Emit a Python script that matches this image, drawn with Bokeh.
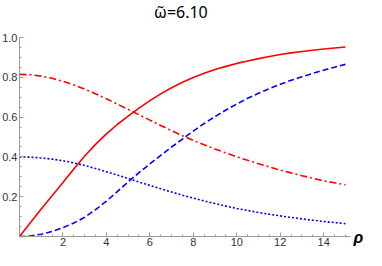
from bokeh.plotting import figure
from bokeh.models import FixedTicker, Range1d, PrintfTickFormatter
from bokeh.core.properties import value
from bokeh.embed import file_html
from bokeh.resources import INLINE

rho = [i * 0.5 for i in range(31)]
red_solid = [0.0, 0.069, 0.138, 0.205, 0.272, 0.34, 0.405, 0.463, 0.516, 0.563, 0.605,
             0.645, 0.683, 0.717, 0.748, 0.775, 0.799, 0.82, 0.839, 0.855, 0.87, 0.882,
             0.894, 0.905, 0.915, 0.923, 0.93, 0.936, 0.942, 0.947, 0.952]
red_dashdot = [0.815, 0.813, 0.806, 0.795, 0.78, 0.762, 0.741, 0.717, 0.692, 0.666, 0.639,
               0.612, 0.585, 0.558, 0.532, 0.507, 0.483, 0.461, 0.44, 0.42, 0.401, 0.383,
               0.366, 0.35, 0.334, 0.32, 0.306, 0.293, 0.28, 0.27, 0.26]
blue_dashed = [0.0, 0.003, 0.012, 0.026, 0.045, 0.068, 0.097, 0.135, 0.178, 0.226, 0.275,
               0.321, 0.365, 0.408, 0.45, 0.49, 0.53, 0.568, 0.603, 0.636, 0.666, 0.695,
               0.72, 0.743, 0.765, 0.785, 0.803, 0.82, 0.836, 0.851, 0.865]
blue_dotted = [0.40, 0.399, 0.395, 0.389, 0.381, 0.37, 0.357, 0.342, 0.326, 0.309, 0.292,
               0.274, 0.257, 0.24, 0.224, 0.208, 0.193, 0.179, 0.166, 0.153, 0.141, 0.131,
               0.121, 0.112, 0.104, 0.096, 0.089, 0.082, 0.076, 0.07, 0.065]

x_ticks = [2, 4, 6, 8, 10, 12, 14]
x_minor = [i * 0.5 for i in range(31)]
y_ticks = [0.2, 0.4, 0.6, 0.8, 1.0]
y_minor = [i * 0.05 for i in range(21)]
title_text = "ω̃=6.10"
x_label = "ρ"

FONT = "Liberation Sans"

p = figure(width=366, height=250, output_backend="svg", toolbar_location=None,
           x_range=Range1d(-0.874, 15.97), y_range=Range1d(-0.070, 1.186),
           min_border=0, min_border_left=0, min_border_right=0,
           min_border_top=0, min_border_bottom=0)
p.outline_line_color = None
p.xgrid.visible = False
p.ygrid.visible = False
p.background_fill_color = "white"
p.border_fill_color = "white"

p.xaxis.fixed_location = 0
p.yaxis.fixed_location = 0
p.xaxis.bounds = (0, 15.23)
p.yaxis.bounds = (0, 1.0)
p.yaxis.formatter = PrintfTickFormatter(format="%.1f")

for ax, ticks, minor in ((p.xaxis[0], x_ticks, x_minor), (p.yaxis[0], y_ticks, y_minor)):
    ax.ticker = FixedTicker(ticks=ticks, minor_ticks=minor)
    ax.axis_line_color = "#9a9a9a"
    ax.major_tick_line_color = "#9a9a9a"
    ax.minor_tick_line_color = "#9a9a9a"
    ax.major_tick_in = 4
    ax.major_tick_out = 0
    ax.minor_tick_in = 2
    ax.minor_tick_out = 0
    ax.major_label_text_font = FONT
    ax.major_label_text_font_size = "11px"
    ax.major_label_text_color = "#333333"
    ax.major_label_standoff = 2

p.xaxis.major_label_standoff = 1

p.line(rho, red_solid, line_color="#ff0000", line_width=1.6)
p.line(rho, red_dashdot, line_color="#ff0000", line_width=1.6, line_dash="7 3 2 3")
p.line(rho, blue_dashed, line_color="#0000ff", line_width=1.6, line_dash="6 3")
p.line(rho, blue_dotted, line_color="#0000ff", line_width=1.6, line_dash="2 2")

p.text(x=[7.43], y=[1.128], text=[title_text], text_font=value("Noto Sans"),
       text_font_size="16px", text_align="center", text_baseline="middle", text_color="black")
p.text(x=[15.37], y=[-0.004], text=[x_label], text_font=value(FONT),
       text_font_size="16px", text_font_style="bold italic", text_align="left",
       text_baseline="middle", text_color="black")

open("out.html", "w").write(file_html(p, INLINE))
